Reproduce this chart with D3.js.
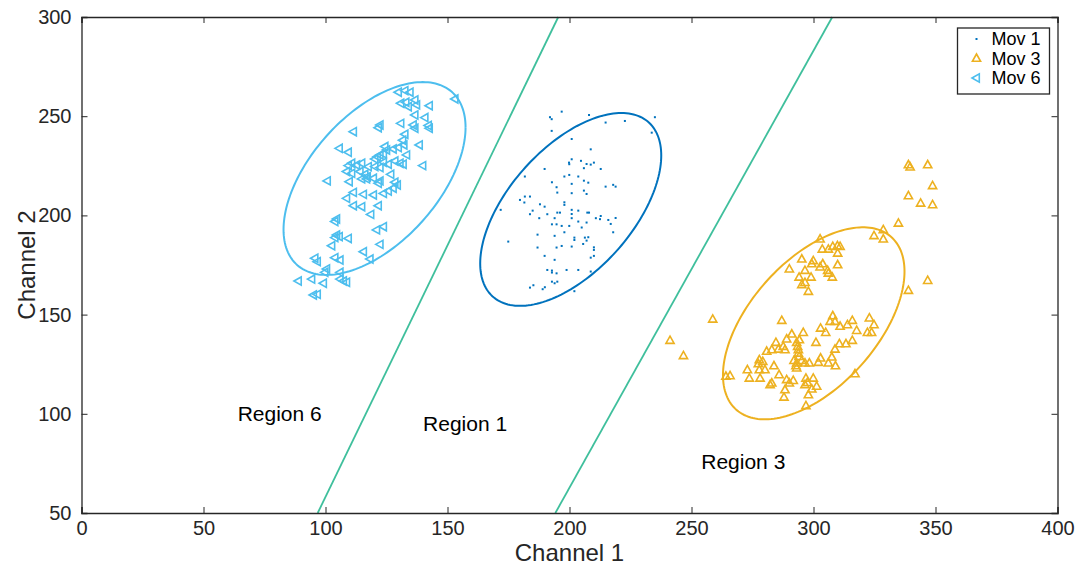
<!DOCTYPE html>
<html lang="en">
    <head>
        <title>Channel clusters</title>
        <meta charset="utf-8">
        <script src="https://d3js.org/d3.v7.min.js"></script>
        <style>
            * {
                margin: 0;
                padding: 0;
            }
            body {
                background-color: white;
                width: 1080px;
                height: 568px;
                overflow: hidden;
            }
            text {
                font-family: "Liberation Sans", Arial, Helvetica, sans-serif;
                fill: #262626;
            }
        </style>
    </head>
    <body>
        <main></main>
        <script>

            // Mov 1 points [channel 1, channel 2]
            const mov1 = [
                [196.8,252.3],[192.0,249.5],[192.7,248.5],[208.0,250.6],[214.8,246.8],[222.7,247.6],[235.0,249.5],[233.7,241.7],
                [192.7,242.6],[200.9,238.5],[208.7,233.3],[200.9,228.3],[199.8,226.6],[199.9,225.8],[204.7,227.5],[207.0,225.9],
                [205.9,223.8],[208.7,225.6],[210.0,226.6],[212.8,223.4],[189.8,223.4],[181.7,219.6],[199.9,220.4],[197.9,219.6],
                [203.6,219.6],[205.9,217.5],[207.7,216.5],[192.8,216.7],[194.7,214.2],[200.9,215.9],[195.0,211.5],[205.9,212.5],
                [207.0,210.8],[214.8,214.5],[217.9,215.4],[218.9,214.5],[179.7,207.8],[181.7,209.5],[183.8,209.5],[181.5,206.5],
                [200.9,211.2],[171.8,202.8],[187.9,205.6],[189.8,204.4],[184.9,202.4],[183.8,200.6],[197.9,206.6],[197.9,205.3],
                [200.9,202.8],[200.9,200.7],[203.6,202.4],[207.3,201.4],[208.0,201.4],[195.0,201.4],[196.1,201.4],[190.9,200.6],
                [187.6,198.6],[193.9,198.6],[192.8,195.5],[194.7,195.5],[196.8,194.7],[199.9,194.7],[200.9,198.6],[203.6,196.9],
                [207.0,196.4],[210.8,198.6],[212.8,199.7],[212.5,198.1],[215.9,197.7],[216.9,195.7],[218.9,198.7],[217.9,191.5],
                [197.9,191.5],[205.0,193.9],[186.9,190.3],[193.9,189.7],[202.0,188.8],[202.0,187.6],[206.3,188.8],[207.0,187.3],
                [207.7,189.0],[205.6,185.6],[196.8,184.6],[194.7,183.8],[186.9,183.8],[200.9,184.3],[210.0,183.9],[210.0,182.6],
                [210.0,179.6],[208.7,178.7],[189.8,179.6],[193.9,177.6],[190.9,172.5],[192.8,172.2],[192.8,171.2],[194.7,170.8],
                [198.8,172.5],[203.6,172.5],[208.7,171.7],[192.8,166.6],[193.9,165.8],[195.0,166.6],[185.2,164.8],[183.8,163.6],
                [189.0,162.8],[189.9,163.8],[202.0,161.8],[174.9,186.8]
            ];

            // Mov 3 points
            const mov3 = [
                [338.9,225.4],[339.6,224.3],[346.8,225.4],[348.8,214.9],[338.9,209.8],[343.9,206.1],[348.8,205.3],[334.8,196.0],
                [328.6,192.7],[324.8,189.7],[328.6,188.0],[346.8,167.1],[338.9,162.1],[258.7,147.6],[241.2,136.9],[246.7,129.2],
                [302.7,188.0],[303.6,182.9],[306.1,182.9],[307.9,184.3],[309.8,184.6],[310.9,184.3],[309.9,180.9],[295.2,177.9],
                [299.9,177.1],[299.3,175.5],[303.8,175.5],[302.7,173.9],[309.9,175.0],[290.1,172.9],[296.5,172.2],[305.8,172.2],
                [306.1,170.8],[307.7,168.8],[294.1,168.8],[299.0,168.8],[296.5,166.1],[295.2,165.0],[297.9,161.6],[287.0,147.0],
                [307.9,149.3],[306.8,146.5],[308.8,146.5],[310.9,144.0],[313.9,144.8],[315.9,147.0],[322.9,148.2],[324.8,144.8],
                [317.7,141.9],[322.1,140.9],[323.8,140.9],[302.9,143.1],[305.0,140.9],[295.8,140.9],[291.1,140.1],[289.0,137.6],
                [293.1,135.9],[294.2,137.2],[301.0,135.9],[284.6,135.9],[280.8,131.4],[282.9,132.2],[285.6,132.5],[287.6,133.9],
                [288.3,132.2],[293.8,132.2],[308.8,132.5],[310.6,135.2],[313.3,135.2],[315.9,136.9],[307.5,128.5],[306.1,125.5],
                [309.0,124.1],[302.9,128.0],[302.0,125.8],[293.8,130.5],[294.1,128.8],[292.0,126.8],[295.2,126.8],[293.1,125.5],
                [296.5,125.5],[298.3,125.5],[293.1,123.0],[277.8,127.2],[279.2,126.3],[277.4,125.1],[283.8,124.1],[272.9,122.1],
                [277.8,122.1],[280.1,122.1],[285.9,119.6],[273.7,117.9],[278.1,117.9],[282.2,114.6],[282.9,115.4],[289.0,117.1],
                [290.1,115.4],[291.7,116.7],[288.3,112.0],[296.9,117.9],[297.5,115.7],[299.9,117.9],[296.5,114.6],[301.3,113.8],
                [299.3,112.4],[297.9,109.5],[287.9,108.3],[264.1,118.8],[265.8,119.1],[317.0,120.1],[296.9,104.0],[293.5,133.9],
                [292.8,124.1]
            ];

            // Mov 6 points
            const mov6 = [
                [129.9,262.1],[132.6,262.9],[134.7,262.1],[130.9,256.5],[133.0,257.0],[134.0,254.8],[136.7,258.2],[137.4,255.7],
                [142.6,255.3],[153.1,258.7],[136.7,250.6],[140.8,249.3],[122.4,245.6],[121.7,244.2],[130.9,246.4],[136.0,245.6],
                [136.7,243.9],[142.2,245.3],[142.6,243.9],[132.6,240.9],[111.5,242.2],[138.5,235.5],[131.7,237.9],[132.2,235.5],
                [105.7,233.8],[109.4,231.8],[124.4,234.7],[125.1,233.0],[127.8,233.5],[129.9,234.2],[133.3,230.5],[121.3,229.6],
                [122.4,230.5],[123.8,231.0],[120.3,228.4],[123.8,226.8],[125.8,225.8],[128.5,227.4],[130.6,226.3],[131.9,225.8],
                [139.9,225.1],[109.4,225.1],[110.8,226.3],[112.8,225.4],[114.9,226.3],[117.6,224.6],[120.3,224.6],[122.4,224.1],
                [108.7,222.1],[110.8,221.2],[114.2,222.1],[116.2,220.7],[117.2,219.5],[126.8,220.7],[100.8,217.4],[109.8,217.0],
                [114.9,218.4],[116.9,218.4],[119.7,218.7],[121.7,216.2],[122.4,217.4],[128.5,216.7],[129.5,215.3],[127.8,213.7],
                [111.5,211.6],[115.6,210.6],[119.7,210.3],[123.8,211.1],[125.8,212.3],[108.7,208.6],[111.5,204.9],[114.9,204.4],
                [121.7,204.9],[118.6,200.5],[104.6,198.2],[103.9,196.9],[121.0,192.7],[123.8,194.3],[104.6,190.1],[103.9,188.8],
                [105.7,189.3],[109.4,188.4],[102.6,184.7],[122.4,185.4],[115.6,181.7],[95.7,178.4],[96.7,176.7],[118.3,178.0],
                [103.9,178.7],[106.0,177.5],[100.5,173.0],[99.8,171.3],[106.0,171.3],[88.9,166.9],[94.4,167.9],[99.2,165.8],
                [106.0,167.9],[107.4,166.9],[108.7,166.3],[95.1,159.9],[96.7,160.2]
            ];

            // cluster ellipses: centre, half widths, correlation
            const ellCenters = [[200.5, 203.0], [300.1, 145.6], [120.1, 218.6]];
            const ellHalfX = [37.1, 37.2, 37.3];
            const ellHalfY = [48.6, 48.4, 48.6];
            const ellRho = [0.56, 0.54, 0.53];

            // decision boundaries: [x at y=50, x at y=300]
            const boundaryX = [[96.8, 195.4], [194.2, 307.7]];
            const boundaryY = [50, 300];

            const seriesNames = ["Mov 1", "Mov 3", "Mov 6"];
            const seriesColors = ["#0072BD", "#EDB120", "#4DBEEE"];

            const regionLabels = ["Region 6", "Region 1", "Region 3"];
            const regionPos = [[64, 100], [140, 95], [254, 76]];

            const xTicks = [0, 50, 100, 150, 200, 250, 300, 350, 400];
            const yTicks = [50, 100, 150, 200, 250, 300];

            const w = 1080;
            const h = 568;
            const mLeft = 81.5, mRight = 1057.5, mTop = 17, mBottom = 513;

            const xScale = d3.scaleLinear().domain([0, 400]).range([mLeft, mRight]);
            const yScale = d3.scaleLinear().domain([50, 300]).range([mBottom, mTop]);

            const svg = d3.select("main")
                .append("svg")
                .attr("width", w)
                .attr("height", h);

            const plot = svg.append("g");

            // boundaries
            plot.selectAll("line.boundary")
                .data(boundaryX)
                .enter()
                .append("line")
                .attr("class", "boundary")
                .attr("x1", d => xScale(d[0]))
                .attr("y1", yScale(boundaryY[0]))
                .attr("x2", d => xScale(d[1]))
                .attr("y2", yScale(boundaryY[1]))
                .attr("stroke", "#3fbf9c")
                .attr("stroke-width", 1.8);

            // ellipses
            const angles = d3.range(0, 2 * Math.PI + 0.01, Math.PI / 90);
            const ellLine = d3.line().x(d => xScale(d[0])).y(d => yScale(d[1]));

            ellCenters.forEach((c, i) => {
                const phi = Math.acos(ellRho[i]);
                const pts = angles.map(t => [
                    c[0] + ellHalfX[i] * Math.cos(t),
                    c[1] + ellHalfY[i] * Math.cos(t - phi)
                ]);
                plot.append("path")
                    .attr("d", ellLine(pts))
                    .attr("fill", "none")
                    .attr("stroke", seriesColors[i])
                    .attr("stroke-width", 2);
            });

            // markers
            const triUp = "M0,-4.5L4.1,2.8L-4.1,2.8Z";
            const triLeft = "M-4.5,0L2.8,-4.1L2.8,4.1Z";

            plot.selectAll("rect.mov1")
                .data(mov1)
                .enter()
                .append("rect")
                .attr("class", "mov1")
                .attr("x", d => xScale(d[0]) - 1)
                .attr("y", d => yScale(d[1]) - 1)
                .attr("width", 2)
                .attr("height", 2)
                .attr("fill", seriesColors[0]);

            plot.selectAll("path.mov3")
                .data(mov3)
                .enter()
                .append("path")
                .attr("class", "mov3")
                .attr("d", triUp)
                .attr("transform", d => `translate(${xScale(d[0])},${yScale(d[1])})`)
                .attr("fill", "none")
                .attr("stroke", seriesColors[1])
                .attr("stroke-width", 1.6);

            plot.selectAll("path.mov6")
                .data(mov6)
                .enter()
                .append("path")
                .attr("class", "mov6")
                .attr("d", triLeft)
                .attr("transform", d => `translate(${xScale(d[0])},${yScale(d[1])})`)
                .attr("fill", "none")
                .attr("stroke", seriesColors[2])
                .attr("stroke-width", 1.6);

            // region labels
            svg.selectAll("text.region")
                .data(regionLabels)
                .enter()
                .append("text")
                .attr("class", "region")
                .attr("x", (d, i) => xScale(regionPos[i][0]))
                .attr("y", (d, i) => yScale(regionPos[i][1]))
                .attr("dy", "0.35em")
                .attr("font-size", "21px")
                .style("fill", "#000")
                .text(d => d);

            // axes box with inward ticks
            const xAxis = d3.axisBottom(xScale).tickValues(xTicks).tickSize(-6).tickPadding(8);
            const yAxis = d3.axisLeft(yScale).tickValues(yTicks).tickSize(-6).tickPadding(10);

            const gx = svg.append("g")
                .attr("transform", `translate(0, ${mBottom})`)
                .call(xAxis);
            const gy = svg.append("g")
                .attr("transform", `translate(${mLeft}, 0)`)
                .call(yAxis);
            const gxTop = svg.append("g")
                .attr("transform", `translate(0, ${mTop})`)
                .call(d3.axisTop(xScale).tickValues(xTicks).tickSize(-6).tickFormat(""));
            const gyRight = svg.append("g")
                .attr("transform", `translate(${mRight}, 0)`)
                .call(d3.axisRight(yScale).tickValues(yTicks).tickSize(-6).tickFormat(""));

            [gx, gy, gxTop, gyRight].forEach(g => {
                g.select(".domain").attr("stroke", "#262626").attr("stroke-width", 1.3);
                g.selectAll(".tick line").attr("stroke", "#262626").attr("stroke-width", 1);
                g.selectAll(".tick text")
                    .attr("font-family", "Liberation Sans, Arial, sans-serif")
                    .attr("font-size", "20px")
                    .style("fill", "#262626");
            });

            svg.append("text")
                .attr("x", (mLeft + mRight) / 2)
                .attr("y", 561)
                .attr("text-anchor", "middle")
                .attr("font-size", "24px")
                .text("Channel 1");

            svg.append("text")
                .attr("transform", `translate(35, ${(mTop + mBottom) / 2}) rotate(-90)`)
                .attr("text-anchor", "middle")
                .attr("font-size", "24px")
                .text("Channel 2");

            // legend
            const legend = svg.append("g").attr("transform", "translate(957.5, 28)");
            legend.append("rect")
                .attr("width", 92)
                .attr("height", 66)
                .attr("fill", "white")
                .attr("stroke", "#262626")
                .attr("stroke-width", 1.3);

            const rowY = [11, 30.5, 50];
            seriesNames.forEach((name, i) => {
                const row = legend.append("g").attr("transform", `translate(19, ${rowY[i]})`);
                if (i === 0) {
                    row.append("rect").attr("x", -1).attr("y", -1).attr("width", 2).attr("height", 2)
                        .attr("fill", seriesColors[0]);
                } else {
                    row.append("path")
                        .attr("d", i === 1 ? triUp : triLeft)
                        .attr("fill", "none")
                        .attr("stroke", seriesColors[i])
                        .attr("stroke-width", 1.6);
                }
                row.append("text")
                    .attr("x", 15)
                    .attr("dy", "0.35em")
                    .attr("font-size", "18px")
                    .style("fill", "#000")
                    .text(name);
            });

        </script>
    </body>
</html>
